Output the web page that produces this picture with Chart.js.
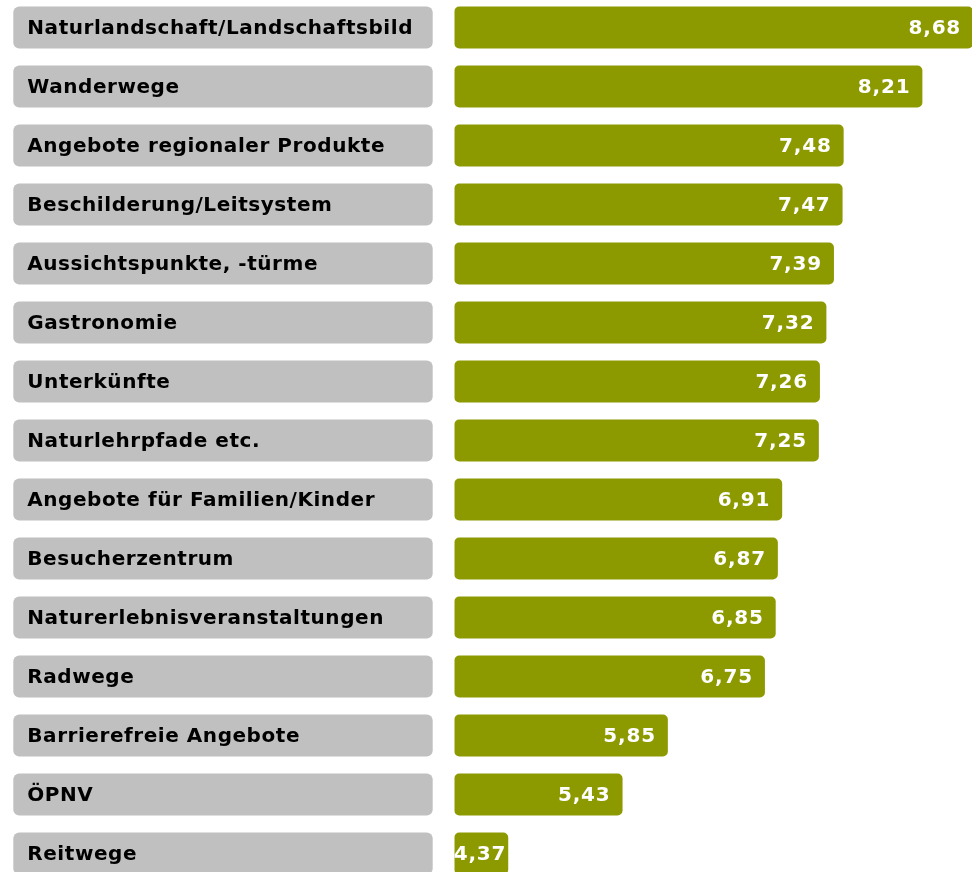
<!DOCTYPE html>
<html>
<head>
<meta charset="utf-8">
<script src="https://cdn.jsdelivr.net/npm/chart.js@4/dist/chart.umd.min.js"></script>
<style>
  html, body { margin: 0; padding: 0; background: #ffffff; overflow: hidden; }
  #wrap { position: relative; width: 972px; height: 885px; margin-top: -2px; }
</style>
</head>
<body>
<div id="wrap"><canvas id="c"></canvas></div>
<script>
const categories = [
  "Naturlandschaft/Landschaftsbild",
  "Wanderwege",
  "Angebote regionaler Produkte",
  "Beschilderung/Leitsystem",
  "Aussichtspunkte, -türme",
  "Gastronomie",
  "Unterkünfte",
  "Naturlehrpfade etc.",
  "Angebote für Familien/Kinder",
  "Besucherzentrum",
  "Naturerlebnisveranstaltungen",
  "Radwege",
  "Barrierefreie Angebote",
  "ÖPNV",
  "Reitwege"
];
const ratings = [8.68, 8.21, 7.48, 7.47, 7.39, 7.32, 7.26, 7.25, 6.91, 6.87, 6.85, 6.75, 5.85, 5.43, 4.37];
const axisMin = 3.87;
const axisMax = 8.67;

const BAR_COLOR = "#8c9a00";
const BOX_COLOR = "#c0c0c0";
const FONT_FAMILY = "'DejaVu Sans', Verdana, sans-serif";

function fmt(v) { return v.toFixed(2).replace(".", ","); }

const labelBoxes = {
  id: "labelBoxes",
  beforeDatasetsDraw(chart) {
    const ctx = chart.ctx;
    const meta = chart.getDatasetMeta(0);
    const yScale = chart.scales.y;
    ctx.save();
    meta.data.forEach((el, i) => {
      const h = el.height;
      const y = el.y - h / 2;
      ctx.fillStyle = BOX_COLOR;
      ctx.beginPath();
      ctx.roundRect(13.3, y, 432.7 - 13.3, h, 6);
      ctx.fill();
      ctx.fillStyle = "#000000";
      ctx.font = "bold 20px " + FONT_FAMILY;
      ctx.letterSpacing = "0.55px";
      ctx.textAlign = "left";
      ctx.textBaseline = "middle";
      ctx.fillText(categories[i], 27.3, yScale.getPixelForValue(i) + 1);
    });
    ctx.restore();
  }
};

const valueLabels = {
  id: "valueLabels",
  afterDatasetsDraw(chart) {
    const ctx = chart.ctx;
    const meta = chart.getDatasetMeta(0);
    ctx.save();
    ctx.fillStyle = "#ffffff";
    ctx.font = "bold 20px " + FONT_FAMILY;
    ctx.letterSpacing = "0.8px";
    ctx.textAlign = "right";
    ctx.textBaseline = "middle";
    meta.data.forEach((el, i) => {
      const txt = fmt(ratings[i]);
      const tw = ctx.measureText(txt).width;
      const w = el.x - el.base;
      const pad = Math.min(12, Math.max(2, (w - tw) / 2));
      ctx.fillText(txt, el.x - pad, el.y + 1);
    });
    ctx.restore();
  }
};

new Chart(document.getElementById("c"), {
  type: "bar",
  data: {
    labels: categories,
    datasets: [{
      data: ratings,
      base: axisMin,
      backgroundColor: BAR_COLOR,
      borderWidth: 0,
      borderRadius: 5,
      borderSkipped: false,
      barPercentage: 0.712,
      categoryPercentage: 1.0
    }]
  },
  options: {
    indexAxis: "y",
    responsive: true,
    maintainAspectRatio: false,
    animation: false,
    layout: { padding: { left: 27.3, right: 0, top: 0, bottom: 0 } },
    plugins: {
      legend: { display: false },
      tooltip: { enabled: false },
      title: { display: false }
    },
    scales: {
      x: {
        display: false,
        min: axisMin,
        max: axisMax
      },
      y: {
        position: "left",
        grid: { display: false },
        border: { display: false },
        ticks: { display: false },
        afterFit(scale) { scale.width = 454.3 - 27.3; }
      }
    }
  },
  plugins: [labelBoxes, valueLabels]
});
</script>
</body>
</html>
